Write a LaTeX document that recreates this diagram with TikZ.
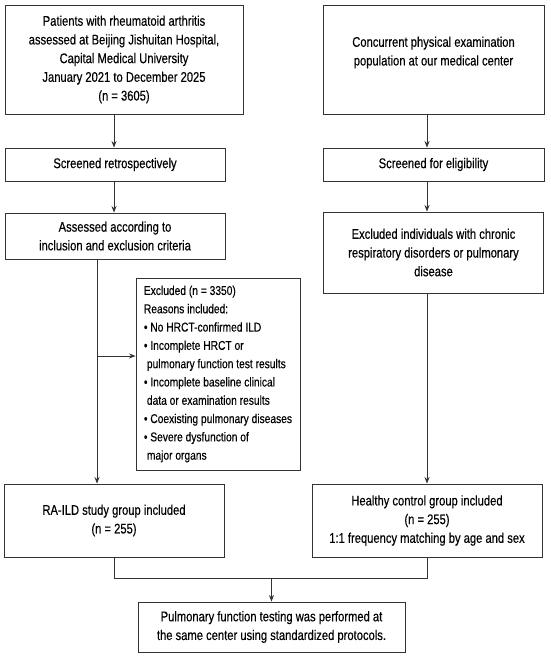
\documentclass[tikz,border=0pt]{standalone}
\usepackage{fontspec}
\setmainfont{Liberation Sans}[FakeStretch=0.8,FakeBold=0.3]
\usetikzlibrary{calc,arrows.meta}
\tikzset{>={Stealth[length=6.5pt,width=5pt]}}
\tikzset{
  box/.style={draw=black!80,line width=0.9pt,fill=white,inner sep=0pt,align=center,
    font=\fontsize{14}{18.7}\selectfont},
  txt/.style={inner sep=0pt,align=center,font=\fontsize{14}{18.7}\selectfont},
  flow/.style={->,black!80,line width=0.9pt},
  link/.style={black!80,line width=0.9pt}
}

\begin{document}
\begin{tikzpicture}[x=1pt,y=-1pt]
    \useasboundingbox[fill=white] (0,0) rectangle (550,658);
    % RA patients (left)
    \node[box,minimum width=238pt,minimum height=109pt] (src) at (124,59.5)
      {Patients with rheumatoid arthritis\\assessed at Beijing Jishuitan Hospital,\\Capital Medical University\\January 2021 to December 2025\\(n = 3605)};
    \node[box,minimum width=220pt,minimum height=33pt] (scr) at (115,164.5) {Screened retrospectively};
    \node[box,minimum width=220pt,minimum height=46pt] (ass) at (115,236) {Assessed according to\\inclusion and exclusion criteria};
    \node[box,align=left,minimum width=164pt,minimum height=192pt,
      font=\fontsize{12.8}{18.3}\selectfont] (excl) at (218,374)
      {Excluded (n = 3350)\\Reasons included:\\• No HRCT-confirmed ILD\\• Incomplete HRCT or\\\hspace*{3pt}pulmonary function test results\\• Incomplete baseline clinical\\\hspace*{3pt}data or examination results\\• Coexisting pulmonary diseases\\• Severe dysfunction of\\\hspace*{3pt}major organs};
    \node[box,minimum width=220pt,minimum height=73pt] (ild) at (114,520.5) {RA-ILD study group included\\(n = 255)};
    % controls (right)
    \node[box,minimum width=221pt,minimum height=109pt] (pop) at (433.5,59.5) {};
    \node[txt] (poptext) at ([yshift=7pt]pop.center) {Concurrent physical examination\\population at our medical center};
    \node[box,minimum width=221pt,minimum height=33pt] (elig) at (433.5,164.5) {Screened for eligibility};
    \node[box,minimum width=220pt,minimum height=81pt] (resp) at (433.5,252.5) {Excluded individuals with chronic\\respiratory disorders or pulmonary\\disease};
    \node[box,minimum width=230pt,minimum height=73pt] (hc) at (427,520.5) {Healthy control group included\\(n = 255)\\1:1 frequency matching by age and sex};
    % common end
    \node[box,minimum width=267pt,minimum height=50pt] (pft) at (271.5,627) {Pulmonary function testing was performed at\\the same center using standardized protocols.};

    \draw[flow] (src.south -| ild.north) -- (scr.north -| ild.north);
    \draw[flow] (scr.south -| ild.north) -- (ass.north -| ild.north);
    \coordinate (drop) at (97,0);
    \coordinate (exin) at ([yshift=18pt]excl.west);
    \draw[flow] (ass.south -| drop) -- (ild.north -| drop);
    \draw[flow] (exin -| drop) -- (exin);

    \draw[flow] (pop.south -| hc.north) -- (elig.north -| hc.north);
    \draw[flow] (elig.south -| hc.north) -- (resp.north -| hc.north);
    \draw[flow] (resp.south -| hc.north) -- (hc.north);

    \coordinate (join) at ($(pft.north)+(0,-23)$);
    \draw[link] (ild.south) |- (join) -| (hc.south);
    \draw[flow] (join) -- (pft.north);
\end{tikzpicture}
\end{document}
